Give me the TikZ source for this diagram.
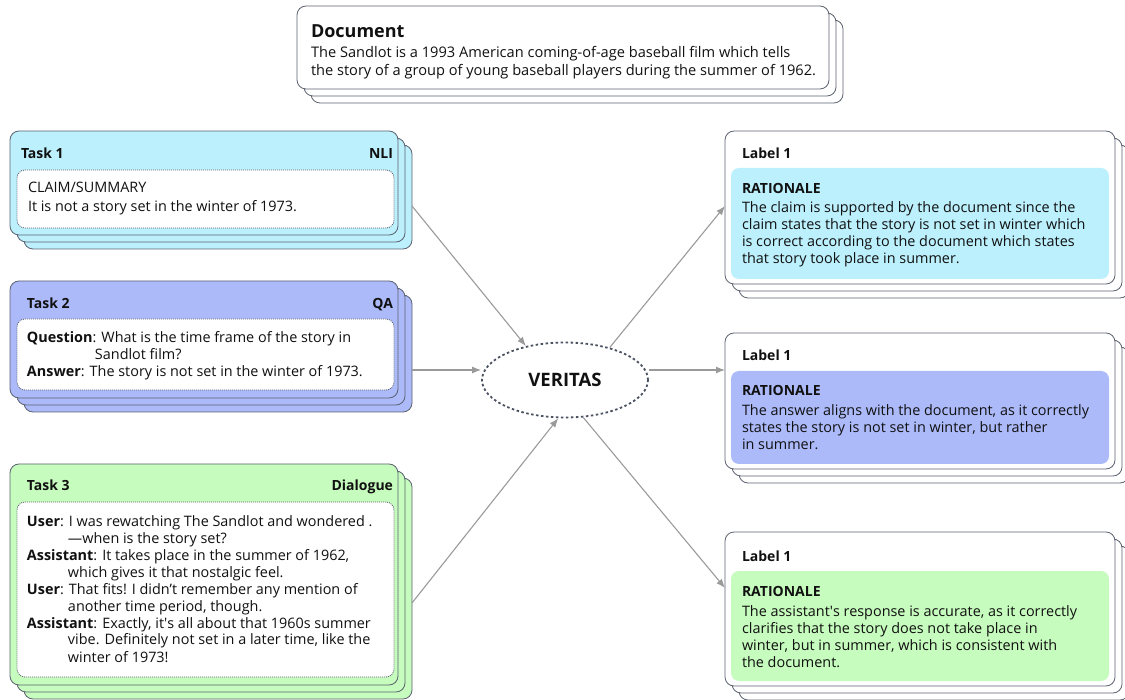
\documentclass[tikz,border=0pt]{standalone}
\usepackage{fontspec}
\setmainfont{Open Sans}
\usetikzlibrary{arrows.meta,calc,shapes.geometric}
\definecolor{cyanf}{HTML}{BCF0FD}
\definecolor{bluef}{HTML}{ACBAFA}
\definecolor{greenf}{HTML}{C6FCBD}
\definecolor{edgec}{HTML}{5C6270}
\definecolor{arrc}{HTML}{9A9A9A}
\definecolor{ink}{HTML}{111111}
\definecolor{elc}{HTML}{4A5160}
\tikzset{
  card/.style={draw=edgec, line width=0.8pt, rounded corners=9pt, anchor=north west, inner sep=0pt, outer sep=0pt},
  inbox/.style={draw=edgec, dash pattern=on 1pt off 1pt, line width=0.8pt, fill=white, rounded corners=8pt, anchor=north west, inner sep=0pt, outer sep=0pt},
  ratbox/.style={rounded corners=8pt, anchor=north west, inner sep=0pt, outer sep=0pt},
  tx/.style={anchor=base west, inner sep=0pt, outer sep=0pt, text=ink, font=\fontsize{14.4}{17}\selectfont},
  hd/.style={tx, font=\fontsize{14}{17}\selectfont\bfseries},
  hdr/.style={hd, anchor=base east},
  conn/.style={draw=arrc, line width=1.1pt, -{Latex[length=9pt,width=7pt]}},
}
\newcommand\cardstack[6]{%
  \node[card,fill=#6,minimum width=#4pt,minimum height=#5pt] (#1c) at (#2+14,#3+14) {};
  \node[card,fill=#6,minimum width=#4pt,minimum height=#5pt] (#1b) at (#2+7,#3+7) {};
  \node[card,fill=#6,minimum width=#4pt,minimum height=#5pt] (#1) at (#2,#3) {};}
\newcommand\pb[1]{\parbox[t]{372pt}{\raggedright #1}}
\begin{document}
\begin{tikzpicture}[x=1pt,y=-1pt]
\useasboundingbox (0,0) rectangle (1125,700);

% Document
\cardstack{doc}{297}{6}{532}{83}{white}
\node[tx, font=\fontsize{18}{22}\selectfont\bfseries] (doch) at (311,38) {Document};
\node[tx, font=\fontsize{14.6}{18}\selectfont] (docb) at (311,58) {\parbox[t]{520pt}{\raggedright The Sandlot is a 1993 American coming-of-age baseball film which tells\\the story of a group of young baseball players during the summer of 1962.}};

% Task 1
\cardstack{t1}{10}{131}{388}{104}{cyanf}
\node[inbox, minimum width=377pt, minimum height=58pt] (t1i) at (17,170) {};
\node[hd] (t1h) at (21,159) {Task 1};
\node[hdr] (t1k) at (393,159) {NLI};
\node[tx] (t1a) at (28,193) {CLAIM/SUMMARY};
\node[tx] (t1b2) at (28,212) {It is not a story set in the winter of 1973.};

% Task 2
\cardstack{t2}{10}{281}{388}{117}{bluef}
\node[inbox, minimum width=377pt, minimum height=71pt] (t2i) at (17,319) {};
\node[hd] (t2h) at (27,309) {Task 2};
\node[hdr] (t2k) at (393,309) {QA};
\node[tx] (t2a) at (27,343) {\pb{\textbf{Question}: What is the time frame of the story in\\\hspace*{68pt}Sandlot film?\\\textbf{Answer}: The story is not set in the winter of 1973.}};

% Task 3
\cardstack{t3}{10}{464}{388}{221}{greenf}
\node[inbox, minimum width=377pt, minimum height=175pt] (t3i) at (17,502) {};
\node[hd] (t3h) at (27,490) {Task 3};
\node[hdr] (t3k) at (393,490) {Dialogue};
\node[tx] (t3a) at (27,526) {\pb{\textbf{User}: I was rewatching The Sandlot and wondered .\\\hspace*{41pt}—when is the story set?\\\textbf{Assistant}: It takes place in the summer of 1962,\\\hspace*{41pt}which gives it that nostalgic feel.\\\textbf{User}: That fits! I didn’t remember any mention of\\\hspace*{41pt}another time period, though.\\\textbf{Assistant}: Exactly, it\textquotesingle s all about that 1960s summer\\\hspace*{41pt}vibe. Definitely not set in a later time, like the\\\hspace*{41pt}winter of 1973!}};

% VERITAS
\node[ellipse, draw=elc, line width=1.8pt, dash pattern=on 2.5pt off 2.5pt, fill=white, minimum width=166pt, minimum height=75pt, inner sep=0pt, font=\fontsize{18.5}{22}\selectfont\bfseries, text=ink] (ver) at (565,380) {VERITAS};

% Labels
\cardstack{l1}{725}{131}{390}{153}{white}
\node[ratbox, fill=cyanf, minimum width=378pt, minimum height=111pt] (l1i) at (731,168) {};
\node[hd] (l1h) at (742,159) {Label 1};
\node[hd] (l1r) at (742,194) {RATIONALE};
\node[tx] (l1t) at (742,213) {\pb{The claim is supported by the document since the\\claim states that the story is not set in winter which\\is correct according to the document which states\\that story took place in summer.}};

\cardstack{l2}{725}{333}{390}{136}{white}
\node[ratbox, fill=bluef, minimum width=378pt, minimum height=93pt] (l2i) at (731,371) {};
\node[hd] (l2h) at (742,361) {Label 1};
\node[hd] (l2r) at (742,396) {RATIONALE};
\node[tx] (l2t) at (742,416) {\pb{The answer aligns with the document, as it correctly\\states the story is not set in winter, but rather\\in summer.}};

\cardstack{l3}{725}{532}{390}{154}{white}
\node[ratbox, fill=greenf, minimum width=378pt, minimum height=110pt] (l3i) at (731,571) {};
\node[hd] (l3h) at (742,561) {Label 1};
\node[hd] (l3r) at (742,596) {RATIONALE};
\node[tx] (l3t) at (742,616) {\pb{The assistant\textquotesingle s response is accurate, as it correctly\\clarifies that the story does not take place in\\winter, but in summer, which is consistent with\\the document.}};

% Connectors
\coordinate (t2o) at ($(t2c.north east)+(0,75)$);
\coordinate (l2o) at ($(l2.north west)+(0,37)$);
\draw[conn] ($(t1c.north east)+(0,61)$) -- (ver.139);
\draw[conn] (t2o) -- (t2o -| ver.west);
\draw[conn] ($(t3c.north east)+(0,125)$) -- (ver.-100);
\draw[conn] (ver.36) -- ($(l1.north west)+(0,75)$);
\draw[conn] (l2o -| ver.east) -- (l2o);
\draw[conn] (ver.-64) -- ($(l3.north west)+(0,56)$);
\end{tikzpicture}
\end{document}
